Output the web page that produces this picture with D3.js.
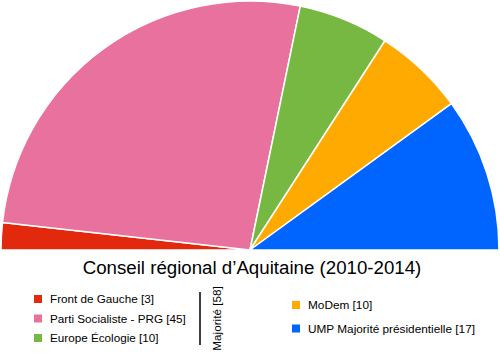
<!DOCTYPE html>
<html>
<head>
<meta charset="utf-8">
<script src="https://cdn.jsdelivr.net/npm/d3@7"></script>
<style>
  body { margin: 0; background: #fff; }
  text { font-family: "Liberation Sans", Arial, sans-serif; fill: #000; }
</style>
</head>
<body>
<div id="container"></div>
<script>
/* DATA */
const parties = ["Front de Gauche", "Parti Socialiste - PRG", "Europe Écologie", "MoDem", "UMP Majorité présidentielle"]
const seats = [3, 45, 10, 10, 17]
const colors = ["#e3290d", "#e9719d", "#77b843", "#ffaa00", "#0065ff"]
const title = "Conseil régional d’Aquitaine (2010-2014)"
const leftGroup = [0, 1, 2]
const rightGroup = [3, 4]
const majorityLabel = "Majorité [58]"

/* CONSTANTS */
const width = 500, height = 354
const cx = 250, cy = 250, radius = 249

const svg = d3.select("#container")
  .append("svg")
  .attr("width", width)
  .attr("height", height)

const data = parties.map((p, i) => ({ party: p, seats: seats[i], color: colors[i] }))

// half pie from left (-90deg) to right (+90deg)
const pie = d3.pie()
  .value(d => d.seats)
  .sort(null)
  .startAngle(-Math.PI / 2)
  .endAngle(Math.PI / 2)

const arcGen = d3.arc()
  .innerRadius(0)
  .outerRadius(radius)

svg.append("g")
  .attr("transform", `translate(${cx}, ${cy})`)
  .selectAll("path")
  .data(pie(data))
  .join("path")
  .attr("d", arcGen)
  .attr("fill", d => d.data.color)
  .attr("stroke", "#fff")
  .attr("stroke-width", 1.5)
  .attr("stroke-linejoin", "round")

// title
svg.append("text")
  .attr("x", 252)
  .attr("y", 274)
  .attr("text-anchor", "middle")
  .attr("font-size", 18.7)
  .text(title)

// legend
const legendLeft = svg.append("g")
leftGroup.forEach((idx, i) => {
  const y = 299 + i * 19.5
  legendLeft.append("rect")
    .attr("x", 34).attr("y", y - 4)
    .attr("width", 8).attr("height", 8)
    .attr("fill", colors[idx])
  legendLeft.append("text")
    .attr("x", 50).attr("y", y + 4)
    .attr("font-size", 11.7)
    .text(`${parties[idx]} [${seats[idx]}]`)
})

rightGroup.forEach((idx, i) => {
  const y = 305 + i * 23.5
  svg.append("rect")
    .attr("x", 292).attr("y", y - 4)
    .attr("width", 8).attr("height", 8)
    .attr("fill", colors[idx])
  svg.append("text")
    .attr("x", 308).attr("y", y + 4)
    .attr("font-size", 11.8)
    .text(`${parties[idx]} [${seats[idx]}]`)
})

// majority bracket
svg.append("line")
  .attr("x1", 200).attr("x2", 200)
  .attr("y1", 292).attr("y2", 345)
  .attr("stroke", "#000")
  .attr("stroke-width", 1.5)

svg.append("text")
  .attr("transform", "translate(221, 318.5) rotate(-90)")
  .attr("text-anchor", "middle")
  .attr("font-size", 11.7)
  .text(majorityLabel)
</script>
</body>
</html>
